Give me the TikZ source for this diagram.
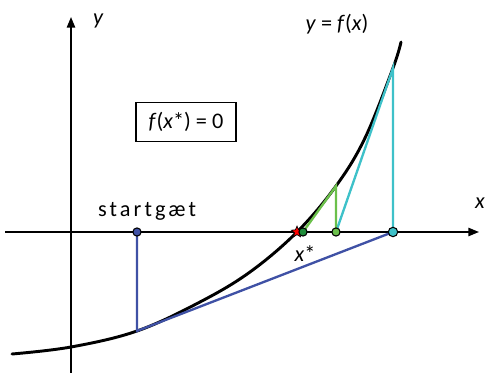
\documentclass[tikz,border=0pt]{standalone}
\usepackage{fontspec}
\setmainfont{Carlito}
\newfontfamily\spacedfont{Carlito}[LetterSpace=14]
\usetikzlibrary{arrows.meta,shapes.geometric}
\definecolor{tangblue}{HTML}{3F51A5}
\definecolor{tangcyan}{HTML}{3EC1C9}
\definecolor{tanggreen}{HTML}{6BC04B}
\definecolor{rootgreen}{HTML}{1E8C3A}
\begin{document}
\begin{tikzpicture}[x=0.03cm,y=-0.03cm,
    axis/.style={line width=1.5pt,-{Triangle[length=9pt,width=7pt]}},
    graph/.style={line width=2.5pt,line cap=round},
    newton/.style={line width=2pt,line join=miter},
    dot/.style={circle,draw=black,line width=0.9pt,inner sep=0pt,minimum size=7pt},
    lbl/.style={font=\fontsize{19}{22}\selectfont, inner sep=1pt}
]
    \useasboundingbox (0,0) rectangle (485,373);
    % axes
    \coordinate (xstart) at (5,232);
    \coordinate (xend)   at (479,232);
    \coordinate (ystart) at (71,373);
    \coordinate (yend)   at (71,17);
    \draw[axis] (xstart) -- (xend);
    \draw[axis] (ystart) -- (yend);
    \node[lbl] (ylab) at (98,21)  {\itshape y};
    \node[lbl] (xlab) at (480,203) {\itshape x};
    \node[lbl] (flab) at (337,24) {\itshape y\/\upshape{} = \itshape f\/\upshape(\itshape x\/\upshape)};
    % the function
    \draw[graph] plot[smooth,tension=0.6] coordinates {
        (12,354) (71,347) (137,331) (200,302) (250,272)
        (297,232) (336,186) (365,138) (393,68) (401,42)};
    % Newton steps
    \coordinate (x0) at (137,232);
    \coordinate (p0) at (137,331);
    \coordinate (x1) at (393,232);
    \coordinate (p1) at (393,68);
    \coordinate (x2) at (336,232);
    \coordinate (p2) at (336,186);
    \coordinate (x3) at (303,232);
    \coordinate (root) at (297,232);
    \draw[newton, tangblue]  (x0) -- (p0) -- (x1);
    \draw[newton, tangcyan]  (x1) -- (p1) -- (x2);
    \draw[newton, tanggreen] (x2) -- (p2) -- (x3);
    \node[star, star points=5, star point ratio=2.2, fill=red, draw=black,
          line width=0.6pt, inner sep=0pt, minimum size=10pt] (rootstar) at (root) {};
    \node[dot, fill=tangblue]  (d0) at (x0) {};
    \node[dot, fill=tangcyan, minimum size=8pt] (d1) at (x1) {};
    \node[dot, fill=tanggreen] (d2) at (x2) {};
    \node[dot, fill=rootgreen] (d3) at (x3) {};
    % labels
    \node[lbl] (guess) at (147,211) {\spacedfont startgæt};
    \node[lbl] (xstar) at (305,254) {\itshape x\/\upshape*};
    \node[lbl, draw, line width=1pt, minimum width=3cm, minimum height=1.17cm]
        (cond) at (186,122) {\itshape f\/\upshape(\itshape x\/\upshape*) = 0};
\end{tikzpicture}
\end{document}
